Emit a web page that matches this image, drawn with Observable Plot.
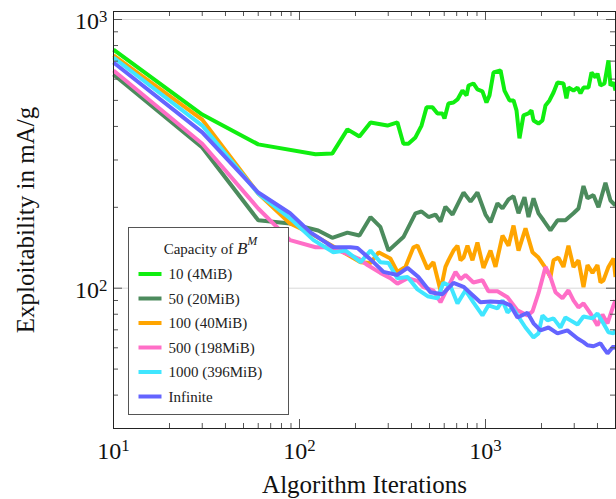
<!DOCTYPE html>
<html><head><meta charset="utf-8">
<script src="https://cdn.jsdelivr.net/npm/d3@7"></script>
<script src="https://cdn.jsdelivr.net/npm/@observablehq/plot@0.6"></script>
<style>body{margin:0;background:#fff;} #chart{position:relative;width:616px;height:499px;}</style>
</head><body><div id="chart"></div>
<script>
const seriesNames = ["10 (4MiB)", "50 (20MiB)", "100 (40MiB)", "500 (198MiB)", "1000 (396MiB)", "Infinite"];
const seriesColors = ["#10ee10", "#4c8b5d", "#ffa500", "#ff6ec7", "#40e6ff", "#6464ff"];
const legendTitle = "Capacity of ";
const xLabel = "Algorithm Iterations";
const yLabel = "Exploitability in mA/g";
const xMajor = [10, 100, 1000];
const xMinor = [20,30,40,50,60,70,80,90,200,300,400,500,600,700,800,900,2000,3000,4000];
const yMajor = [100, 1000];
const yMinor = [40,50,60,70,80,90,200,300,400,500,600,700,800,900];

const iterG = [10,30,60,122,150,181,210,241,297,336,362,385,420,453,482,519,552,587,602,632,673,707,752,791,811,861,905,963,1012,1051,1104,1205,1265,1346,1415,1468,1523,1600,1703,1767,1812,1927,2024,2102,2208,2321,2438,2625,2723,2792,2972,3124,3241,3364,3579,3716,3903,4000,4150,4362,4583,4698,4877,5000];
const valG = [773,443,343,315,317,390,367,414,403,414,345,345,364,403,471,471,447,447,428,487,491,504,544,522,568,578,549,540,491,522,635,646,544,500,500,459,361,440,447,459,421,410,421,479,500,535,583,578,509,558,544,558,531,558,558,635,609,629,568,578,704,568,583,544];

const iterD = [10,30,60,89,126,150,181,210,241,272,301,362,420,453,494,538,573,609,665,762,831,905,1000,1064,1160,1234,1330,1415,1505,1621,1703,1812,1927,2050,2235,2438,2690,2972,3162,3364,3535,3807,4050,4415,4698,5000];
const valD = [624,334,179,174,164,154,161,157,184,169,138,155,190,193,184,188,177,201,188,227,210,227,188,176,207,198,214,220,190,218,184,216,190,179,164,179,179,190,198,240,216,222,200,247,212,203];

const iterO = [10,30,60,89,115,172,213,241,266,308,336,371,410,431,488,525,573,609,632,673,707,734,762,800,851,905,975,1064,1132,1234,1330,1415,1505,1641,1790,1927,2102,2235,2321,2467,2625,2792,2972,3162,3364,3535,3761,4000,4150,4308,4583,4877,5000];
const valO = [735,424,225,174,160,136,125,124,136,129,115,120,142,144,118,125,98,120,127,138,144,127,130,144,127,148,119,138,120,157,144,171,138,167,136,130,119,110,127,130,120,144,120,127,101,122,114,122,105,107,120,129,110];

const iterP = [10,30,60,89,122,147,172,207,232,272,308,336,381,431,464,525,573,625,690,734,781,861,963,1037,1160,1313,1486,1682,1790,1927,2102,2235,2378,2593,2792,2972,3162,3364,3671,4000,4256,4528,4877,5000];
const valP = [646,345,198,151,142,142,136,129,122,114,109,104,109,106.5,101,98,88.6,100,115,108,112,105,107,97.4,97.4,92.6,82.7,79.2,82,95.8,120,110,96.6,91.8,98.2,90.1,84.8,87.8,80.5,72.7,79.8,73.9,86.3,90.1];

const iterC = [10,30,60,89,119,152,177,213,241,272,301,336,381,431,488,552,594,648,707,781,861,963,1037,1160,1234,1313,1397,1486,1641,1812,1927,2024,2154,2321,2529,2690,2862,3124,3364,3761,4000,4308,4583,4877,5000];
const valC = [722,403,225,182,151,136,138,125,138,125,124,109,110,99,93.4,91.8,104.7,101.8,87.8,98.2,88.6,79.2,86.3,84.1,90.1,81.2,84.8,79.2,71.4,65.6,67.9,79.2,75.9,77.2,71.4,77.8,75.9,73.3,78.5,77.2,80.5,73.9,68.5,67.9,69.7];

const iterB = [10,30,60,89,115,152,188,205,241,283,336,381,436,506,587,673,762,831,939,1064,1250,1363,1486,1682,1812,1975,2182,2438,2758,3124,3364,3535,3807,4150,4308,4528,4877,5000];
const valB = [692,380,227,190,161,142,142,141,128,115,112,119,110,96.6,95,104.7,101.2,95.8,88.6,89.3,88.6,86.3,77.8,81,74,69.7,71.4,67.9,69.7,65,63,61.3,60.8,62.4,60,57.2,60.8,59.5];

const iters = [iterG, iterD, iterO, iterP, iterC, iterB];
const vals = [valG, valD, valO, valP, valC, valB];
const rows = [];
seriesNames.forEach((name, s) => {
  iters[s].forEach((it, i) => rows.push({series: name, iter: it, value: vals[s][i]}));
});

const W = 616, H = 499, mL = 113, mR = 1, mT = 11, mB = 71;
const fw = W - mL - mR, fh = H - mT - mB;
const font = "'Liberation Serif', 'Times New Roman', serif";
const majorLen = 9, minorLen = 5, tickColor = "#555";

const fmt = d => "10^" + Math.round(Math.log10(d));

const svg = Plot.plot({
  width: W, height: H,
  marginLeft: mL, marginRight: mR, marginTop: mT, marginBottom: mB,
  style: {fontFamily: font, background: "white", color: "#111", overflow: "visible"},
  x: {type: "log", domain: [10, 5000]},
  y: {type: "log", domain: [30.05, 1071]},
  color: {domain: seriesNames, range: seriesColors},
  marks: [
    Plot.ruleY(yMajor, {stroke: "#d8d8d8", strokeWidth: 1}),
    Plot.line(rows, {x: "iter", y: "value", z: "series", stroke: "series", strokeWidth: 4, strokeLinejoin: "miter", strokeLinecap: "butt"}),
    Plot.tickY(yMinor, {y: d => d, insetRight: fw - minorLen, stroke: tickColor}),
    Plot.tickY(yMajor, {y: d => d, insetRight: fw - majorLen, stroke: tickColor}),
    Plot.tickY(yMinor, {y: d => d, insetLeft: fw - minorLen, stroke: tickColor}),
    Plot.tickY(yMajor, {y: d => d, insetLeft: fw - majorLen, stroke: tickColor}),
    Plot.tickX(xMinor, {x: d => d, insetTop: fh - minorLen, stroke: tickColor}),
    Plot.tickX(xMajor, {x: d => d, insetTop: fh - majorLen, stroke: tickColor}),
    Plot.tickX(xMinor, {x: d => d, insetBottom: fh - minorLen, stroke: tickColor}),
    Plot.tickX(xMajor, {x: d => d, insetBottom: fh - majorLen, stroke: tickColor}),
    Plot.frame({stroke: "#222", strokeWidth: 1}),
    Plot.axisX(xMajor, {anchor: "bottom", tickSize: 0, tickPadding: 13, fontSize: 24, tickFormat: fmt, label: null}),
    Plot.axisY(yMajor, {anchor: "left", tickSize: 0, tickPadding: 6, fontSize: 24, dy: 2, tickFormat: fmt, label: null}),
    Plot.text([xLabel], {frameAnchor: "bottom", textAnchor: "middle", lineAnchor: "middle", dy: 56, fontSize: 25, fill: "#111"}),
    Plot.text([yLabel], {frameAnchor: "left", textAnchor: "middle", lineAnchor: "middle", rotate: -90, dx: -88, fontSize: 25, fill: "#111"})
  ]
});

d3.select(svg).selectAll('g[aria-label="x-axis tick label"] text, g[aria-label="y-axis tick label"] text').each(function() {
  const t = this.textContent.split("^");
  const sel = d3.select(this);
  sel.text(t[0]);
  sel.append("tspan").attr("dy", "-0.42em").attr("font-size", "0.7em").text(t[1]);
});

const lg = d3.select(svg).append("g").attr("font-family", font).attr("text-anchor", "start");
const lx = 128.5, ly = 227.5, lw = 160, lh = 187;
lg.append("rect").attr("x", lx).attr("y", ly).attr("width", lw).attr("height", lh)
  .attr("fill", "white").attr("stroke", "#555").attr("stroke-width", 1);
const tt = lg.append("text").attr("x", lx + lw / 2 + 2).attr("y", ly + 26).attr("text-anchor", "middle")
  .attr("font-size", 15).attr("fill", "#222");
tt.append("tspan").text(legendTitle);
tt.append("tspan").attr("font-style", "italic").attr("font-size", 17).text("B");
tt.append("tspan").attr("font-style", "italic").attr("font-size", 12).attr("dy", "-0.75em").text("M");
seriesNames.forEach((name, i) => {
  const cy = ly + 46.5 + i * 24.5;
  lg.append("line").attr("x1", lx + 10).attr("x2", lx + 33).attr("y1", cy).attr("y2", cy)
    .attr("stroke", seriesColors[i]).attr("stroke-width", 4);
  lg.append("text").attr("x", lx + 40).attr("y", cy + 5).attr("text-anchor", "start")
    .attr("font-size", 15).attr("fill", "#222").text(name);
});

document.getElementById("chart").appendChild(svg);
</script>
</body></html>
